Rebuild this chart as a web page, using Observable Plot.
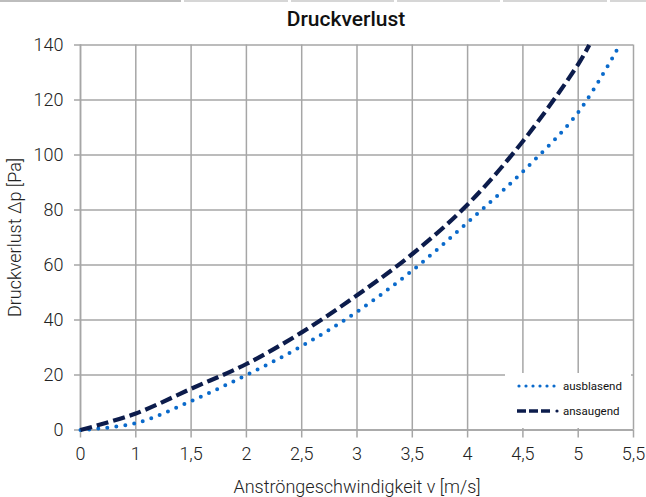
<!DOCTYPE html>
<html>
<head>
<meta charset="utf-8">
<script src="https://cdn.jsdelivr.net/npm/d3@7"></script>
<script src="https://cdn.jsdelivr.net/npm/@observablehq/plot@0.6"></script>
<style>
  html, body { margin: 0; padding: 0; background: #fff; }
  #wrap { position: relative; width: 646px; height: 497px; overflow: hidden; font-family: Roboto, "Noto Sans", sans-serif; }
  .strip { position: absolute; top: 0; height: 2px; background: #d6d6d6; }
  #title { position: absolute; top: 7px; left: 0; width: 692px; text-align: center; font-size: 21px; line-height: 24px; font-weight: 500; color: #111; }
  #legend { position: absolute; left: 505px; top: 373px; width: 126px; height: 55px; background: #fff; }
  #legend .row { position: absolute; left: 12px; height: 14px; display: flex; align-items: center; font-size: 11.5px; color: #111; }
</style>
</head>
<body>
<div id="wrap">
  <div class="strip" style="left:0;width:181px;background:#bdbdbd"></div>
  <div class="strip" style="left:184px;width:104px"></div>
  <div class="strip" style="left:291px;width:103px"></div>
  <div class="strip" style="left:397px;width:103px"></div>
  <div class="strip" style="left:503px;width:104px"></div>
  <div class="strip" style="left:610px;width:36px"></div>
  <div id="title">Druckverlust</div>
  <div id="chart" style="position:absolute;left:0;top:0"></div>
  <div id="legend"></div>
</div>
<script>
// Category axis labels (evenly spaced, as in the original)
const xLabels = ["0", "1", "1,5", "2", "2,5", "3", "3,5", "4", "4,5", "5", "5,5"];
const yTicks = [0, 20, 40, 60, 80, 100, 120, 140];

// positions along the category axis (index units) and pressure drop [Pa]
const ausblasendPos = [0, 1, 2, 3, 4, 5, 6, 7, 8, 9, 9.75];
const ausblasendVal = [0, 2.5, 10.5, 20, 30.5, 43, 58, 75.5, 94, 115.5, 140];
const ansaugendPos = [0, 1, 2, 3, 4, 5, 6, 7, 8, 9, 9.2];
const ansaugendVal = [0, 6, 15, 24, 35.5, 49, 64, 82, 105, 133, 140];

const seriesNames = ["ausblasend", "ansaugend"];
const colors = {ausblasend: "#0a6acb", ansaugend: "#0c1c4c"};

const data = [
  ...ausblasendPos.map((p, i) => ({s: "ausblasend", x: p, y: ausblasendVal[i]})),
  ...ansaugendPos.map((p, i) => ({s: "ansaugend", x: p, y: ansaugendVal[i]}))
];

const chart = Plot.plot({
  width: 646,
  height: 497,
  marginLeft: 80,
  marginRight: 13,
  marginTop: 44.5,
  marginBottom: 67.5,
  style: {fontFamily: "Roboto, sans-serif", fontSize: "18px", fontWeight: 300, color: "#222", background: "transparent"},
  x: {type: "linear", domain: [0, 10]},
  y: {domain: [0, 140]},
  marks: [
    Plot.gridX(d3.range(11), {stroke: "#a6a6a6", strokeOpacity: 1, strokeWidth: 1.5}),
    Plot.gridY(yTicks, {stroke: "#a6a6a6", strokeOpacity: 1, strokeWidth: 1.5}),
    Plot.ruleX([0], {stroke: "#a6a6a6", strokeWidth: 1.5}),
    Plot.ruleY([0], {stroke: "#a6a6a6", strokeWidth: 1.5}),
    Plot.axisX(d3.range(11), {tickFormat: i => xLabels[i], tickSize: 8, tickPadding: 9, stroke: "#a6a6a6", strokeWidth: 1.5,
      label: "Anströngeschwindigkeit v [m/s]", labelAnchor: "center", labelArrow: "none", labelOffset: 63, fontSize: 18}),
    Plot.axisY(yTicks, {tickSize: 6, tickPadding: 11, stroke: "#a6a6a6", strokeWidth: 1.5,
      label: "Druckverlust Δp [Pa]", labelAnchor: "center", labelArrow: "none", labelOffset: 72, fontSize: 18}),
    Plot.line(data.filter(d => d.s === "ausblasend"), {x: "x", y: "y", curve: "catmull-rom",
      stroke: colors.ausblasend, strokeWidth: 4, strokeDasharray: "0,9", strokeLinecap: "round"}),
    Plot.line(data.filter(d => d.s === "ansaugend"), {x: "x", y: "y", curve: "catmull-rom",
      stroke: colors.ansaugend, strokeWidth: 4.2, strokeDasharray: "12,5", strokeLinecap: "butt"})
  ]
});
document.getElementById("chart").appendChild(chart);

// legend
const legend = document.getElementById("legend");
seriesNames.forEach((name, i) => {
  const row = document.createElement("div");
  row.className = "row";
  row.style.top = (6 + i * 25) + "px";
  const dash = name === "ausblasend"
    ? `<line x1="2" y1="7" x2="40" y2="7" stroke="${colors[name]}" stroke-width="3.2" stroke-dasharray="0,7" stroke-linecap="round"/>`
    : `<line x1="0" y1="7" x2="36" y2="7" stroke="${colors[name]}" stroke-width="3.5" stroke-dasharray="9,3"/><circle cx="40" cy="7" r="1.6" fill="${colors[name]}"/>`;
  row.innerHTML = `<svg width="44" height="14" style="margin-right:2px">${dash}</svg><span>${name}</span>`;
  legend.appendChild(row);
});
</script>
</body>
</html>
